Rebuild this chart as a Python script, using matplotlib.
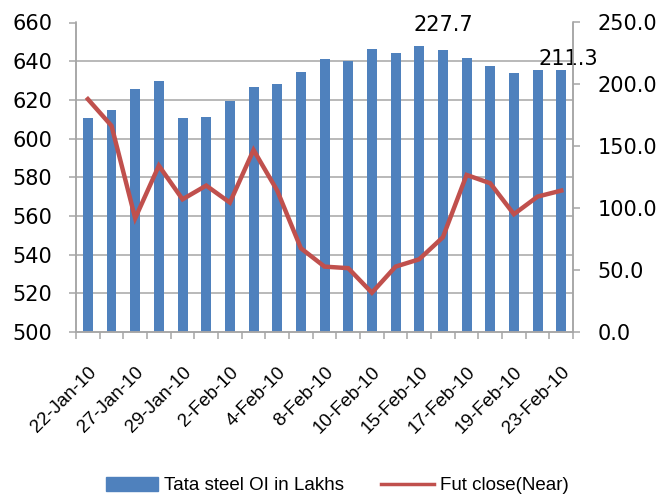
import matplotlib
matplotlib.use("Agg")
import matplotlib.pyplot as plt
from matplotlib.ticker import FixedLocator, FormatStrFormatter
from matplotlib.patches import Patch
from matplotlib.lines import Line2D

plt.rcParams['font.family'] = ['DejaVu Sans']
NARROW = ['Liberation Sans', 'DejaVu Sans']

dates = ["22-Jan-10", "25-Jan-10", "27-Jan-10", "28-Jan-10", "29-Jan-10", "1-Feb-10",
         "2-Feb-10", "3-Feb-10", "4-Feb-10", "5-Feb-10", "8-Feb-10", "9-Feb-10",
         "10-Feb-10", "11-Feb-10", "15-Feb-10", "16-Feb-10", "17-Feb-10", "18-Feb-10",
         "19-Feb-10", "22-Feb-10", "23-Feb-10"]
oi_lakhs = [172.5, 179.0, 196.5, 203.0, 172.5, 173.3, 186.5, 198.3, 200.0, 210.3, 220.8,
            219.2, 228.7, 225.5, 231.0, 227.7, 221.5, 215.0, 209.5, 212.0, 211.3]
fut_close = [620.4, 606.6, 558.8, 586.0, 568.6, 575.7, 566.9, 594.1, 573.1, 543.3, 533.8,
             533.0, 520.3, 533.8, 537.6, 549.0, 581.2, 576.9, 560.9, 570.0, 573.1]
left_ticks = [500, 520, 540, 560, 580, 600, 620, 640, 660]
right_ticks = [0, 50, 100, 150, 200, 250]
annotated = {15: "227.7", 20: "211.3"}
annot_offsets = {15: (0, 11), 20: (5, 1)}

bar_color = "#4F81BD"
line_color = "#C0504D"
grid_color = "#A6A6A6"

fig = plt.figure(figsize=(6.61, 5.0), dpi=100)
ax = fig.add_axes([0.115, 0.336, 0.752, 0.619])
ax2 = ax.twinx()

x = list(range(len(dates)))
ax.bar(x, oi_lakhs, width=0.42, color=bar_color, zorder=2)
ax2.plot(x, fut_close, color=line_color, lw=3.2, solid_joinstyle='miter', zorder=3)

ax.set_xlim(-0.5, len(dates) - 0.5)
ax.set_ylim(0, 250)
ax2.set_ylim(500, 660)

ax.yaxis.tick_right()
ax.yaxis.set_major_locator(FixedLocator(right_ticks))
ax.yaxis.set_major_formatter(FormatStrFormatter('%.1f'))
grid_pos = [(v - 500) * 250 / 160 for v in left_ticks]
ax.yaxis.set_minor_locator(FixedLocator(grid_pos))
ax.grid(which='minor', axis='y', color=grid_color, lw=1.1, zorder=0)
ax.tick_params(axis='y', which='minor', length=0)
ax.set_axisbelow(True)

ax2.yaxis.tick_left()
ax2.yaxis.set_major_locator(FixedLocator(left_ticks))

for a in (ax, ax2):
    a.spines['top'].set_visible(False)
    for s in ['left', 'right', 'bottom']:
        a.spines[s].set_color(grid_color)
        a.spines[s].set_linewidth(1.1)

ax.tick_params(axis='y', which='major', direction='out', length=5, color=grid_color,
               labelsize=15, pad=12.5, width=1.1)
ax2.tick_params(axis='y', direction='out', length=5, color=grid_color,
                labelsize=15, pad=12, width=1.1)

ax.set_xticks([i - 0.5 for i in range(len(dates) + 1)])
ax.set_xticklabels([])
ax.set_xticks(x[::2], minor=True)
ax.set_xticklabels([dates[i] for i in x[::2]], minor=True, rotation=45, ha='right',
                   rotation_mode='anchor', fontsize=13.5, family=NARROW)
ax.tick_params(axis='x', which='major', direction='out', length=5, color=grid_color, width=1.1)
ax.tick_params(axis='x', which='minor', length=0, pad=23)

for i, txt in annotated.items():
    ax.annotate(txt, xy=(i, oi_lakhs[i]), xytext=annot_offsets[i], textcoords='offset points',
                ha='center', va='bottom', fontsize=15)

handles = [Patch(color=bar_color), Line2D([0], [0], color=line_color, lw=2.5)]
fig.legend(handles, ["Tata steel OI in Lakhs", "Fut close(Near)"], loc='center',
           bbox_to_anchor=(0.51, 0.029), ncol=2, frameon=False,
           prop={'family': NARROW, 'size': 13.5},
           handlelength=2.8, handleheight=0.75, columnspacing=2.0, handletextpad=0.3)

fig.savefig("out.png", dpi=100)
